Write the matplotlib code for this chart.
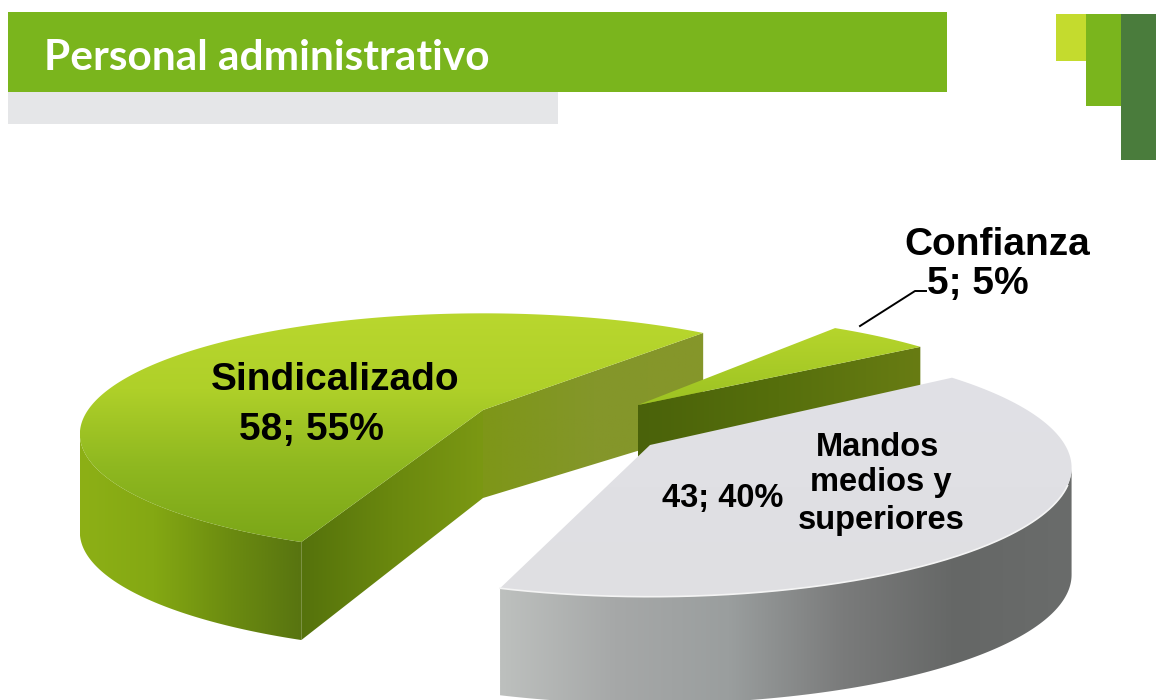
import numpy as np
import matplotlib
matplotlib.use("Agg")
import matplotlib.pyplot as plt
from matplotlib.colors import LinearSegmentedColormap
from matplotlib.patches import Polygon, Rectangle

title = "Personal administrativo"
categories = ["Mandos medios y superiores", "Sindicalizado", "Confianza"]
values = [43, 58, 5]
percents = [40, 55, 5]

# each exploded slice has its own seat and perspective (pixels)
START_ANGLE = 36.5
GREEN_TURN = -4.5
apex = [(650, 445), (483, 410), (638, 405)]
radius = [415, 395, 388]
disk_h = [125, 116, 108]
persp = [0.176, 0.2, 0.176]
depth = [107, 98, 52]
apex_depth = [107, 88, 52]

plt.rcParams["font.family"] = ["Liberation Sans", "DejaVu Sans"]

fig = plt.figure(figsize=(11.56, 7), dpi=100)
ax = fig.add_axes([0, 0, 1, 1])
ax.axis("off")


def project(i, ang):
    a = np.radians(ang)
    u, v = np.cos(a), np.sin(a)
    s = 1 / (1 + persp[i] * v)
    return np.column_stack([apex[i][0] + radius[i] * u * s,
                            apex[i][1] - disk_h[i] * v * s])


def grad_fill(pts, colors, vertical=False, zorder=2):
    pts = np.asarray(pts)
    x0, y0 = pts.min(axis=0)
    x1, y1 = pts.max(axis=0)
    cmap = LinearSegmentedColormap.from_list("g", colors)
    g = np.linspace(0, 1, 256)
    g = g[:, None] if vertical else g[None, :]
    im = ax.imshow(g, cmap=cmap, extent=[x0, x1, y1, y0], origin="upper",
                   aspect="auto", zorder=zorder, interpolation="bilinear")
    im.set_clip_path(Polygon(pts, transform=ax.transData))


def cut_face(i, ang, colors, zorder):
    c = apex[i]
    p = project(i, np.array([ang]))[0]
    quad = [c, p, (p[0], p[1] + depth[i]), (c[0], c[1] + apex_depth[i])]
    grad_fill(quad, colors, zorder=zorder)


def draw_slice(i, a0, a1, top, wall, face0, face1, z):
    # a0 > a1, the slice runs clockwise
    angs = np.linspace(a0, a1, 300)
    arc = project(i, angs)

    # outer wall, from the silhouette point on towards the viewer
    low = angs[np.sin(np.radians(angs)) < -persp[i]]
    if len(low) and wall:
        upper = project(i, low)
        lower = upper + [0, depth[i]]
        grad_fill(np.vstack([upper, lower[::-1]]), wall, zorder=z)

    if face0 and np.sin(np.radians(a0 + 90)) < 0:
        cut_face(i, a0, face0, z + 0.1)
    if face1 and np.sin(np.radians(a1 - 90)) < 0:
        cut_face(i, a1, face1, z + 0.1)

    grad_fill(np.vstack([[apex[i]], arc]), top, vertical=True, zorder=z + 0.2)
    return angs, arc


# header band
ax.add_patch(Rectangle((8, 12), 939, 80, color="#7AB51D", lw=0))
ax.add_patch(Rectangle((8, 92), 550, 32, color="#E5E6E8", lw=0))
ax.add_patch(Rectangle((1056, 14), 31, 47, color="#C4DB2E", lw=0))
ax.add_patch(Rectangle((1086, 14), 36, 92, color="#7AB51D", lw=0))
ax.add_patch(Rectangle((1121, 14), 35, 146, color="#4A7C3C", lw=0))
ax.text(44, 58, title, color="white", fontsize=30.5, fontweight="bold",
        family=["Lato", "DejaVu Sans"], va="center", ha="left")

# slice angles come from the percentages
spans = [p * 3.6 for p in percents]
a_grey = (START_ANGLE, START_ANGLE - spans[0])
a_green = (a_grey[1] + GREEN_TURN, a_grey[1] + GREEN_TURN - spans[1])
a_conf = (a_grey[1] - spans[1], a_grey[1] - spans[1] - spans[2])

draw_slice(1, a_green[0], a_green[1],
           top=["#B9D72E", "#AFD029", "#8FB820", "#7BA618"],
           wall=["#8DB016", "#84A813", "#6C8C10", "#587410"],
           face0=["#55720C", "#6A880E", "#7B9813"],
           face1=["#7E9618", "#84962A", "#86962A"], z=2)

draw_slice(2, a_conf[0], a_conf[1],
           top=["#B6D52C", "#9CC222"],
           wall=None,
           face0=None,
           face1=["#4A620A", "#566F0C", "#687C13"], z=3)

angs, arc = draw_slice(0, a_grey[0], a_grey[1],
                       top=["#E1E1E6", "#DFDFE2"],
                       wall=["#BDC0BE", "#A6A8A8", "#9A9E9E", "#7A7B7B", "#656766", "#6A6C6B"],
                       face0=None, face1=None, z=4)
low = arc[np.sin(np.radians(angs)) < -0.3]
ax.plot(low[:, 0], low[:, 1], color="#F4F4F4", lw=1.2, zorder=4.5)

# leader line
ax.plot([860, 915, 926], [326, 291, 291], color="black", lw=1.4, zorder=6)

# labels
lab = dict(color="black", fontweight="bold", ha="center", va="center", zorder=7)
ax.text(335, 380, categories[1], fontsize=28, **lab)
ax.text(311, 430, f"{values[1]}; {percents[1]}%", fontsize=28, **lab)
ax.text(997, 245, categories[2], fontsize=28, **lab)
ax.text(978, 284, f"{values[2]}; {percents[2]}%", fontsize=28, **lab)
ax.text(878, 447, "Mandos", fontsize=23.5, **lab)
ax.text(881, 483, "medios y", fontsize=23.5, **lab)
ax.text(881, 520, "superiores", fontsize=23.5, **lab)
ax.text(723, 498, f"{values[0]}; {percents[0]}%", fontsize=23.5, **lab)

ax.set_xlim(0, 1156)
ax.set_ylim(700, 0)

fig.savefig("out.png", dpi=100, facecolor="white")
